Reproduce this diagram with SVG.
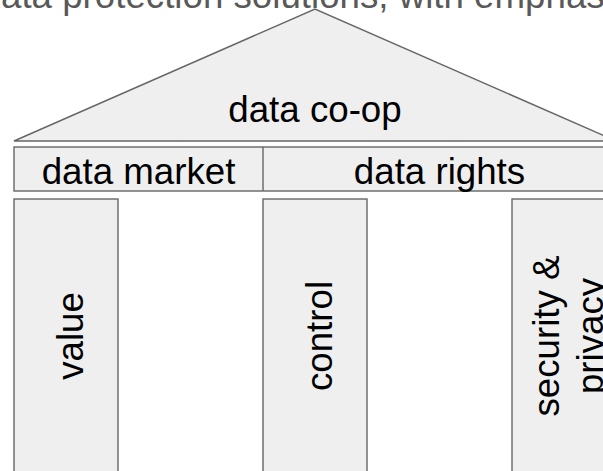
<svg xmlns="http://www.w3.org/2000/svg" width="603" height="471" viewBox="0 0 603 471">
  <style>
    .shape { fill: #efefef; stroke: #666666; stroke-width: 1.4; }
    .label { font-family: "Liberation Sans", Arial, sans-serif; font-size: 36.7px; fill: #000000; text-anchor: middle; }
    .caption { font-family: "Liberation Sans", Arial, sans-serif; font-size: 36.7px; fill: #595959; }
  </style>
  <rect x="0" y="0" width="603" height="471" fill="#ffffff"/>
  <text class="caption" x="1" y="8">ata protection solutions, with emphas</text>
  <g id="roof">
    <polygon class="shape" points="14,141 315,9 616,141"/>
    <text class="label" x="315" y="122">data co-op</text>
  </g>
  <g id="beam">
    <rect class="shape" x="14" y="147" width="602" height="44"/>
    <line x1="263" y1="147" x2="263" y2="191" stroke="#666666" stroke-width="1.4"/>
  </g>
  <g id="data-market">
    <text class="label" x="138.5" y="184">data market</text>
  </g>
  <g id="data-rights">
    <text class="label" x="439.5" y="184">data rights</text>
  </g>
  <g id="pillar-value">
    <rect class="shape" x="14" y="199" width="104" height="300"/>
    <text class="label" transform="translate(82.5,336) rotate(-90)">value</text>
  </g>
  <g id="pillar-control">
    <rect class="shape" x="263" y="199" width="104" height="300"/>
    <text class="label" transform="translate(331.5,336) rotate(-90)">control</text>
  </g>
  <g id="pillar-security">
    <rect class="shape" x="512" y="199" width="104" height="300"/>
    <text class="label" transform="translate(558.5,336) rotate(-90)">security &amp;</text>
    <text class="label" transform="translate(602.5,336) rotate(-90)">privacy</text>
  </g>
  <g id="connectors"/>
</svg>
